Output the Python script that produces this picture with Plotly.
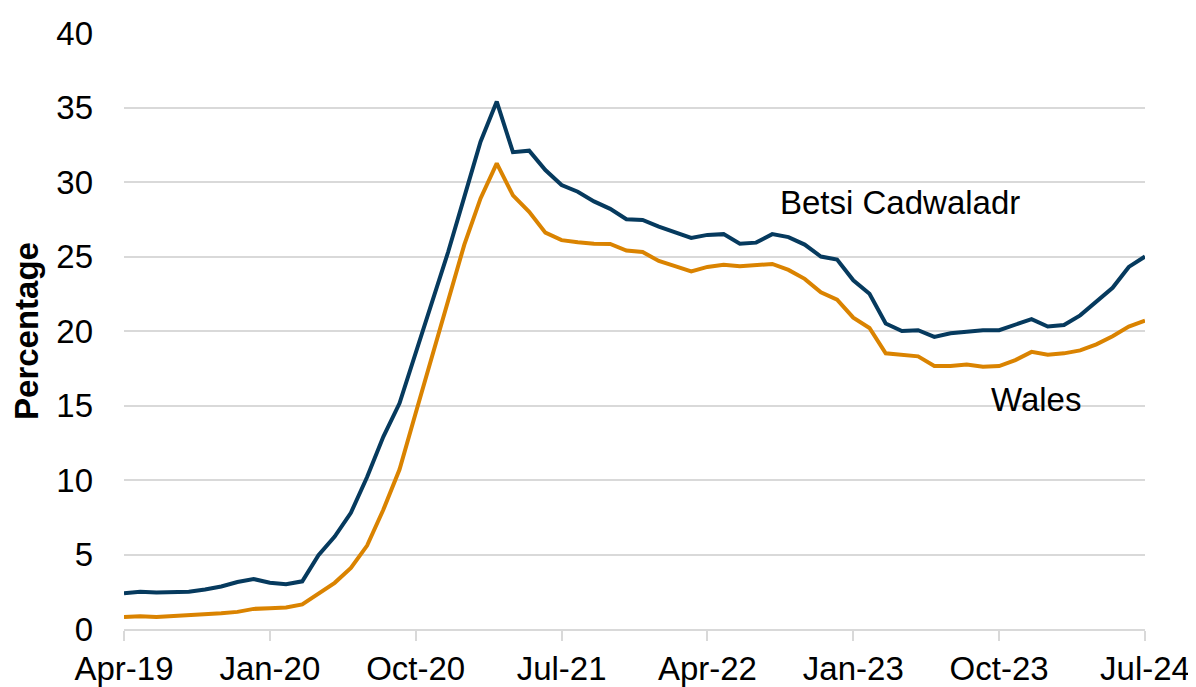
import pandas as pd
import plotly.graph_objects as go

months = [d.strftime("%b-%y") for d in pd.date_range("2019-04-01", "2024-07-01", freq="MS")]

betsi = [2.4, 2.5, 2.45, 2.45, 2.5, 2.65, 2.85, 3.15, 3.35, 3.1,
         3.0, 3.2, 4.95, 6.2, 7.8, 10.2, 12.9, 15.15, 18.6, 21.9,
         25.3, 29.0, 32.7, 35.4, 32.0, 32.1, 30.8, 29.8, 29.35, 28.7,
         28.2, 27.5, 27.45, 27.0, 26.6, 26.25, 26.45, 26.5, 25.85, 25.93,
         26.5, 26.3, 25.8, 25.0, 24.8, 23.4, 22.5, 20.5, 20.0, 20.05,
         19.6, 19.85, 19.95, 20.05, 20.05, 20.4, 20.8, 20.3, 20.4, 21.05,
         21.95, 22.9, 24.3, 25.0]

wales = [0.8, 0.85, 0.8, 0.85, 0.9, 0.95, 1.05, 1.15, 1.35, 1.4,
         1.45, 1.65, 2.35, 3.1, 4.1, 5.6, 8.0, 10.7, 14.5, 18.3,
         22.2, 25.8, 28.9, 31.25, 29.1, 28.0, 26.6, 26.1, 25.95, 25.85,
         25.84, 25.4, 25.3, 24.7, 24.35, 24.0, 24.3, 24.45, 24.35, 24.45,
         24.5, 24.1, 23.5, 22.6, 22.1, 20.9, 20.2, 18.5, 18.4, 18.3,
         17.65, 17.65, 17.75, 17.6, 17.65, 18.05, 18.6, 18.4, 18.5, 18.7,
         19.1, 19.65, 20.3, 20.7]

tick_labels = ["Apr-19", "Jan-20", "Oct-20", "Jul-21", "Apr-22", "Jan-23", "Oct-23", "Jul-24"]
y_ticks = [0, 5, 10, 15, 20, 25, 30, 35, 40]

BLUE = "#063A5E"
ORANGE = "#DA8300"
GRID = "#D9D9D9"
FONT = "Liberation Sans, Arial, sans-serif"
FS = 33

fig = go.Figure()
fig.add_trace(go.Scatter(x=months, y=wales, mode="lines", name="Wales",
                         line=dict(color=ORANGE, width=4)))
fig.add_trace(go.Scatter(x=months, y=betsi, mode="lines", name="Betsi Cadwaladr",
                         line=dict(color=BLUE, width=4)))

fig.add_annotation(x=47.9, y=28.6, text="Betsi Cadwaladr", showarrow=False,
                   font=dict(size=FS, color="black", family=FONT))
fig.add_annotation(x=56.3, y=15.4, text="Wales", showarrow=False,
                   font=dict(size=FS, color="black", family=FONT))

fig.update_layout(
    width=1196, height=687,
    margin=dict(l=116, r=59, t=25, b=66, autoexpand=False),
    paper_bgcolor="white", plot_bgcolor="white",
    showlegend=False,
    font=dict(family=FONT, size=FS, color="black"),
)
fig.update_xaxes(
    type="category", range=[0, len(months) - 1], automargin=False,
    tickmode="array", tickvals=tick_labels, ticktext=tick_labels,
    showgrid=False, showline=True, linecolor=GRID, linewidth=1.5,
    ticks="outside", ticklen=10, tickcolor=GRID, tickwidth=1.5,
    tickfont=dict(size=FS, family=FONT, color="black"),
    ticklabelstandoff=0,
)
fig.update_yaxes(
    range=[0, 40], tickvals=y_ticks, automargin=False,
    showgrid=True, gridcolor=GRID, gridwidth=1.5, zeroline=False,
    showline=False, ticks="",
    tickfont=dict(size=FS, family=FONT, color="black"),
    ticklabelstandoff=30,
    title=dict(text="<b>Percentage</b>", font=dict(size=FS, family=FONT, color="black"),
               standoff=10),
)

fig.write_html("out.html")
